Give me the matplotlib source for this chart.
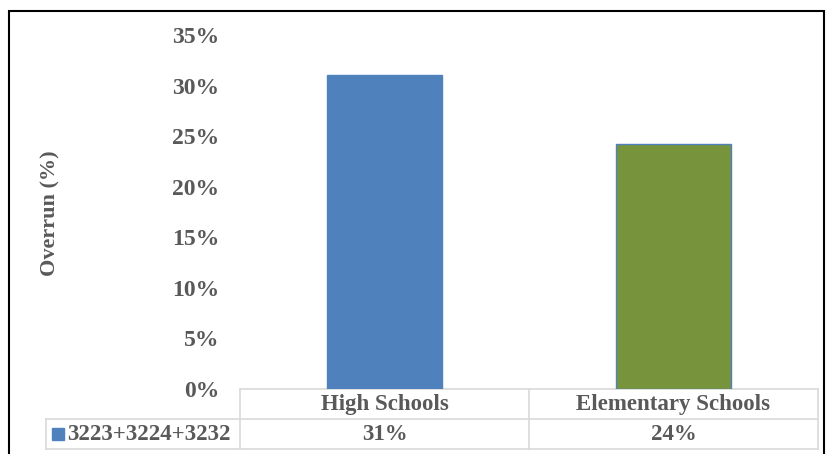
import matplotlib
matplotlib.use("Agg")
import matplotlib.pyplot as plt
from matplotlib.patches import Rectangle
from matplotlib.lines import Line2D
import matplotlib.transforms as mtransforms

categories = ["High Schools", "Elementary Schools"]
series_name = "3223+3224+3232"
values = [0.31, 0.242]
bar_colors = ["#4F81BD", "#77933C"]
yticks = [0, 0.05, 0.10, 0.15, 0.20, 0.25, 0.30, 0.35]
ylabel = "Overrun (%)"

W, H = 827, 454
fig = plt.figure(figsize=(W / 100, H / 100), dpi=100)
plt.rcParams['font.family'] = ['Liberation Serif', 'DejaVu Serif']
txt_color = "#595959"
grid_color = "#D9D9D9"

def fx(px):
    return px / W

def fy(py):
    return 1 - py / H

ax_left, ax_right, ax_top, ax_bottom = 240, 818, 35, 389
ax = fig.add_axes([fx(ax_left), fy(ax_bottom), fx(ax_right - ax_left), fy(ax_top) - fy(ax_bottom)])
x = list(range(len(categories)))
ax.bar(x, values, width=0.4, color=bar_colors, edgecolor="#4F81BD", linewidth=1.0, zorder=3)
ax.set_xlim(-0.5, len(categories) - 0.5)
ax.set_ylim(0, 0.35)
ax.set_yticks(yticks)
ax.set_yticklabels([f"{int(round(t * 100))}%" for t in yticks],
                   fontsize=17, fontweight="bold", color=txt_color)
ax.tick_params(axis="y", length=0, pad=15)
ax.set_xticks([])
for s in ax.spines.values():
    s.set_visible(False)

fig.text(fx(50), fy(213), ylabel, rotation=90, ha="center", va="center",
         fontsize=16, fontweight="bold", color=txt_color)

# Data table below the axes
trans = mtransforms.blended_transform_factory(ax.transData, fig.transFigure)
row_top, row_mid, row_bot = fy(389), fy(419), fy(449)
edges = [i - 0.5 for i in range(len(categories) + 1)]
ax.add_line(Line2D([edges[0], edges[-1]], [row_top, row_top], transform=trans,
                   color=grid_color, lw=1.2, clip_on=False))
fig.add_artist(Line2D([fx(46), fx(ax_right)], [row_mid, row_mid], color=grid_color, lw=1.2))
fig.add_artist(Line2D([fx(46), fx(ax_right)], [row_bot, row_bot], color=grid_color, lw=1.2))
fig.add_artist(Line2D([fx(46), fx(46)], [row_mid, row_bot], color=grid_color, lw=1.2))
for e in edges:
    ax.add_line(Line2D([e, e], [row_top, row_bot], transform=trans,
                       color=grid_color, lw=1.2, clip_on=False))
for i, (c, v) in enumerate(zip(categories, values)):
    ax.text(i, (row_top + row_mid) / 2 - 0.002, c, transform=trans, ha="center", va="center",
            fontsize=16.5, fontweight="bold", color=txt_color)
    ax.text(i, (row_mid + row_bot) / 2 - 0.002, f"{v * 100:.0f}%", transform=trans, ha="center",
            va="center", fontsize=16.5, fontweight="bold", color=txt_color)
# legend key
fig.add_artist(Rectangle((fx(52), fy(440)), fx(12), fy(428) - fy(440), color=bar_colors[0]))
fig.text(fx(67), (row_mid + row_bot) / 2 - 0.002, series_name, ha="left", va="center",
         fontsize=16.5, fontweight="bold", color=txt_color)

# outer border
fig.add_artist(Rectangle((fx(9), -0.05), fx(824 - 9), fy(11) + 0.05, fill=False,
                         edgecolor="black", lw=1.5))

fig.savefig("out.png", dpi=100)
